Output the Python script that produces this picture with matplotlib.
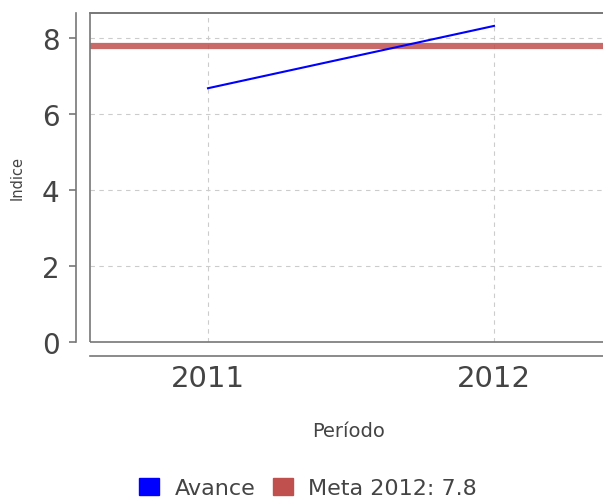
import matplotlib
matplotlib.use("Agg")
import matplotlib.pyplot as plt
from matplotlib.patches import Patch, Rectangle

periods = [2011, 2012]
avance = [6.68, 8.32]
meta = 7.8
yticks = [0, 2, 4, 6, 8]
xtick_labels = ["2011", "2012"]

fig = plt.figure(figsize=(6.03, 5.02), dpi=100)
W, H = 603, 502
left_px, right_px, top_px, bot_px = 90, 605, 14, 343
ax = fig.add_axes([left_px / W, 1 - bot_px / H, (right_px - left_px) / W, (bot_px - top_px) / H])

x0 = 2011 - (208 - left_px) / 286
x1 = 2011 + (right_px - 208) / 286
ax.set_xlim(x0, x1)
ax.set_ylim(0, 8.66)

ax.grid(True, color="#cccccc", linestyle=(0, (4, 4)), linewidth=0.8)
ax.set_axisbelow(True)

ax.axhline(meta, color="#c0504d", linewidth=4.5, alpha=0.85, zorder=3)
ax.plot(periods, avance, color="#0000ff", linewidth=1.5, zorder=4)

ax.set_xticks(periods)
ax.set_xticklabels(xtick_labels)
ax.set_yticks(yticks)

frame_c = "#777777"
for s in ["top", "right"]:
    ax.spines[s].set_color(frame_c)
    ax.spines[s].set_linewidth(1.2)
ax.spines["left"].set_position(("outward", 10))
ax.spines["bottom"].set_position(("outward", 10))
ax.spines["left"].set_color(frame_c)
ax.spines["bottom"].set_color(frame_c)
ax.spines["left"].set_linewidth(1.2)
ax.spines["bottom"].set_linewidth(1.2)
ax.add_patch(Rectangle((0, 0), 1, 1, transform=ax.transAxes, fill=False,
                       edgecolor=frame_c, linewidth=1.2, clip_on=False, zorder=5))

ax.tick_params(axis="y", colors=frame_c, labelcolor="#444444", labelsize=20, length=5, width=1.2, pad=7)
ax.tick_params(axis="x", length=0, labelcolor="#444444", labelsize=21, pad=6)

ax.set_ylabel("Indice", fontsize=10.5, color="#444444", va="center", ha="center")
ax.yaxis.set_label_coords(17 / W, 1 - 178 / H, transform=fig.transFigure)
ax.set_xlabel("Período", fontsize=14, color="#444444", va="center")
ax.xaxis.set_label_coords(349 / W, 1 - 432 / H, transform=fig.transFigure)

handles = [Patch(facecolor="#0000ff", edgecolor="#0000ff", label="Avance"),
           Patch(facecolor="#c0504d", edgecolor="#c0504d", label="Meta 2012: 7.8")]
fig.legend(handles=handles, loc="center", bbox_to_anchor=(308 / W, 1 - 489 / H), ncol=2,
           frameon=False, fontsize=16, handlelength=0.9, handleheight=0.85,
           handletextpad=0.68, columnspacing=0.8, labelcolor="#444444")

fig.savefig("out.png", dpi=100)
